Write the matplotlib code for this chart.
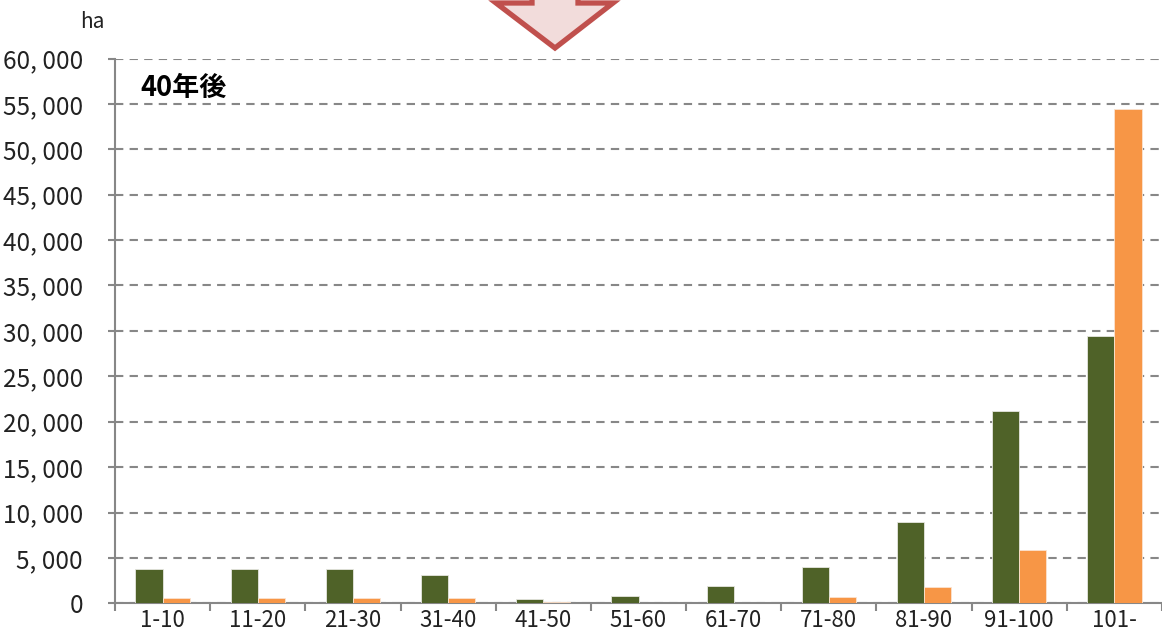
import matplotlib
matplotlib.use('Agg')
import matplotlib.pyplot as plt
from matplotlib.patches import Polygon
from matplotlib.ticker import FuncFormatter
import numpy as np

# age classes (years) and area (ha), 40 years later
categories = ['1-10', '11-20', '21-30', '31-40', '41-50', '51-60',
              '61-70', '71-80', '81-90', '91-100', '101-']
series_a = [3800, 3800, 3800, 3100, 450, 800, 1900, 3950, 8900, 21200, 29400]
series_b = [600, 600, 600, 600, 100, 0, 0, 700, 1750, 5900, 54450]

yticks = list(range(0, 60001, 5000))

green = '#4F6228'
orange = '#F79646'
grey = '#878787'

plt.rcParams['font.family'] = ['Noto Sans CJK JP', 'DejaVu Sans']

W, H = 1162, 642
fig = plt.figure(figsize=(W / 100, H / 100), dpi=100)
ax = fig.add_axes([115 / W, (H - 603.3) / H, (W - 115) / W, (603.3 - 58.5) / H])

x = np.arange(len(categories))
bw = 0.285
ax.bar(x - bw / 2, series_a, bw, color=green, edgecolor='#e6e6e0', linewidth=0.6, zorder=3)
ax.bar(x + bw / 2, series_b, bw, color=orange, edgecolor='#fbe3d0', linewidth=0.6, zorder=3)

ax.set_xlim(-0.5, len(categories) - 0.5)
ax.set_ylim(0, 60000)
ax.set_yticks(yticks)
ax.yaxis.set_major_formatter(FuncFormatter(lambda v, p: '0' if v == 0 else f'{int(v):,}'.replace(',', ', ')))
ax.set_xticks(x)
ax.set_xticklabels(categories)
ax.set_xticks(np.arange(-0.5, len(categories)), minor=True)

for s in ['top', 'right']:
    ax.spines[s].set_visible(False)
for s in ['left', 'bottom']:
    ax.spines[s].set_color(grey)
    ax.spines[s].set_linewidth(1.5)

ax.tick_params(axis='y', length=5, width=1.5, color=grey, pad=18, labelsize=17.5, labelcolor='#222222')
ax.tick_params(axis='x', which='major', length=0, pad=4, labelsize=16, labelcolor='#222222')
ax.tick_params(axis='x', which='minor', length=6, width=1.5, color=grey)

ax.yaxis.grid(True, color=grey, linestyle=(0, (4, 3)), linewidth=1.5, zorder=0)
ax.set_axisbelow(True)

fig.text(92 / W, 1 - 22 / H, 'ha', ha='center', va='center', fontsize=15, color='#222222')
ax.text(140 / W, 1 - 88 / H, '40年後', transform=fig.transFigure, ha='left', va='center',
        fontsize=19.5, fontweight='bold', color='black')

# cropped arrow at the top
pts = [(532, -30), (532, 3), (496, 3), (555, 48), (613, 3), (578, 3), (578, -30)]
arrow = Polygon([(px / W, 1 - py / H) for px, py in pts], closed=True,
                facecolor='#F2DCDB', edgecolor='#C0504D', linewidth=3.8,
                joinstyle='miter', transform=fig.transFigure, clip_on=False)
fig.patches.append(arrow)

fig.savefig('out.png', dpi=100)
